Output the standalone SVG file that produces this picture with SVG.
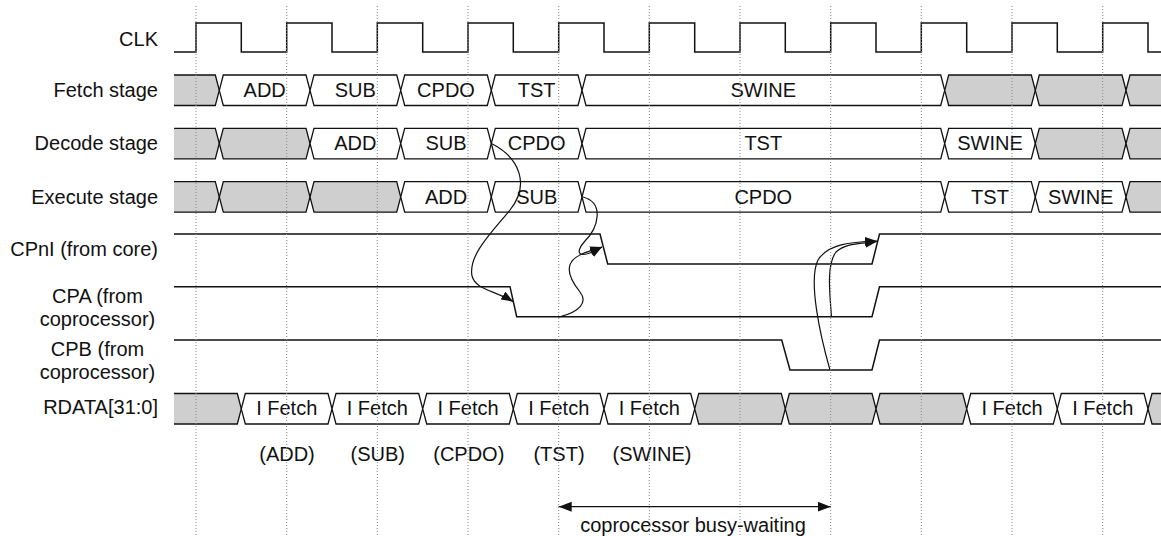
<svg xmlns="http://www.w3.org/2000/svg" width="1161" height="536" viewBox="0 0 1161 536">
<style>
text{font-family:"Liberation Sans",Arial,sans-serif;font-size:20px;fill:#111}
.lbl{text-anchor:end}
.c{text-anchor:middle}
.w{fill:#fff;stroke:#111;stroke-width:1.3}
.g{fill:#cfcfcf;stroke:#111;stroke-width:1.3}
.gf{fill:#cfcfcf;stroke:none}
.o{fill:none;stroke:#111;stroke-width:1.3}
.sig{fill:none;stroke:#111;stroke-width:1.5}
.grid{stroke:#888;stroke-width:1;stroke-dasharray:1 2;fill:none}
.cv{fill:none;stroke:#111;stroke-width:1.2}
</style>
<defs>
<marker id="ah" markerUnits="userSpaceOnUse" markerWidth="14" markerHeight="10" refX="12" refY="4.5" orient="auto"><path d="M0,0 L12,4.5 L0,9 z" fill="#111"/></marker>
<marker id="ah2" markerUnits="userSpaceOnUse" markerWidth="15" markerHeight="11" refX="13" refY="5" orient="auto-start-reverse"><path d="M0,0 L13,5 L0,10 z" fill="#111"/></marker>
</defs>

<g id="labels">
<text class="lbl" x="158" y="45.5">CLK</text>
<text class="lbl" x="158" y="97">Fetch stage</text>
<text class="lbl" x="158" y="150.3">Decode stage</text>
<text class="lbl" x="158" y="203.7">Execute stage</text>
<text class="lbl" x="158" y="255.5">CPnI (from core)</text>
<text class="c" x="97.5" y="303">CPA (from</text>
<text class="c" x="97.5" y="325.5">coprocessor)</text>
<text class="c" x="97.5" y="356">CPB (from</text>
<text class="c" x="97.5" y="378.5">coprocessor)</text>
<text class="lbl" x="158" y="414">RDATA[31:0]</text>
</g>

<g id="clk">
<path class="sig" d="M174,52 H196 V23 H241.3 V52 H286.7 V23 H332 V52 H377.3 V23 H422.7 V52 H468 V23 H513.3 V52 H558.7 V23 H604 V52 H649.3 V23 H694.7 V52 H740 V23 H785.3 V52 H830.7 V23 H876 V52 H921.3 V23 H966.7 V52 H1012 V23 H1057.3 V52 H1102.7 V23 H1148 V52 H1161"/>
</g>

<g id="fetch">
<polygon class="gf" points="174,75 215.3,75 219.3,90.3 215.3,105.5 174,105.5"/>
<path class="o" d="M174,75 H215.3 L219.3,90.3 L215.3,105.5 H174"/>
<polygon class="w" points="219.3,90.3 223.3,75 306,75 310,90.3 306,105.5 223.3,105.5"/>
<polygon class="w" points="310,90.3 314,75 396.7,75 400.7,90.3 396.7,105.5 314,105.5"/>
<polygon class="w" points="400.7,90.3 404.7,75 487.3,75 491.3,90.3 487.3,105.5 404.7,105.5"/>
<polygon class="w" points="491.3,90.3 495.3,75 578,75 582,90.3 578,105.5 495.3,105.5"/>
<polygon class="w" points="582,90.3 586,75 940.7,75 944.7,90.3 940.7,105.5 586,105.5"/>
<polygon class="g" points="944.7,90.3 948.7,75 1031.3,75 1035.3,90.3 1031.3,105.5 948.7,105.5"/>
<polygon class="g" points="1035.3,90.3 1039.3,75 1122,75 1126,90.3 1122,105.5 1039.3,105.5"/>
<polygon class="gf" points="1126,90.3 1130,75 1161,75 1161,105.5 1130,105.5"/>
<path class="o" d="M1161,75 H1130 L1126,90.3 L1130,105.5 H1161"/>
<text class="c" x="264.7" y="96.8">ADD</text>
<text class="c" x="355.3" y="96.8">SUB</text>
<text class="c" x="446" y="96.8">CPDO</text>
<text class="c" x="536.7" y="96.8">TST</text>
<text class="c" x="763.3" y="96.8">SWINE</text>
</g>

<g id="decode">
<polygon class="gf" points="174,128.3 215.3,128.3 219.3,143.5 215.3,158.8 174,158.8"/>
<path class="o" d="M174,128.3 H215.3 L219.3,143.5 L215.3,158.8 H174"/>
<polygon class="g" points="219.3,143.5 223.3,128.3 306,128.3 310,143.5 306,158.8 223.3,158.8"/>
<polygon class="w" points="310,143.5 314,128.3 396.7,128.3 400.7,143.5 396.7,158.8 314,158.8"/>
<polygon class="w" points="400.7,143.5 404.7,128.3 487.3,128.3 491.3,143.5 487.3,158.8 404.7,158.8"/>
<polygon class="w" points="491.3,143.5 495.3,128.3 578,128.3 582,143.5 578,158.8 495.3,158.8"/>
<polygon class="w" points="582,143.5 586,128.3 940.7,128.3 944.7,143.5 940.7,158.8 586,158.8"/>
<polygon class="w" points="944.7,143.5 948.7,128.3 1031.3,128.3 1035.3,143.5 1031.3,158.8 948.7,158.8"/>
<polygon class="g" points="1035.3,143.5 1039.3,128.3 1122,128.3 1126,143.5 1122,158.8 1039.3,158.8"/>
<polygon class="gf" points="1126,143.5 1130,128.3 1161,128.3 1161,158.8 1130,158.8"/>
<path class="o" d="M1161,128.3 H1130 L1126,143.5 L1130,158.8 H1161"/>
<text class="c" x="355.3" y="150.2">ADD</text>
<text class="c" x="446" y="150.2">SUB</text>
<text class="c" x="536.7" y="150.2">CPDO</text>
<text class="c" x="763.3" y="150.2">TST</text>
<text class="c" x="990" y="150.2">SWINE</text>
</g>

<g id="execute">
<polygon class="gf" points="174,181.7 215.3,181.7 219.3,197 215.3,212.2 174,212.2"/>
<path class="o" d="M174,181.7 H215.3 L219.3,197 L215.3,212.2 H174"/>
<polygon class="g" points="219.3,197 223.3,181.7 306,181.7 310,197 306,212.2 223.3,212.2"/>
<polygon class="g" points="310,197 314,181.7 396.7,181.7 400.7,197 396.7,212.2 314,212.2"/>
<polygon class="w" points="400.7,197 404.7,181.7 487.3,181.7 491.3,197 487.3,212.2 404.7,212.2"/>
<polygon class="w" points="491.3,197 495.3,181.7 578,181.7 582,197 578,212.2 495.3,212.2"/>
<polygon class="w" points="582,197 586,181.7 940.7,181.7 944.7,197 940.7,212.2 586,212.2"/>
<polygon class="w" points="944.7,197 948.7,181.7 1031.3,181.7 1035.3,197 1031.3,212.2 948.7,212.2"/>
<polygon class="w" points="1035.3,197 1039.3,181.7 1122,181.7 1126,197 1122,212.2 1039.3,212.2"/>
<polygon class="gf" points="1126,197 1130,181.7 1161,181.7 1161,212.2 1130,212.2"/>
<path class="o" d="M1161,181.7 H1130 L1126,197 L1130,212.2 H1161"/>
<text class="c" x="446" y="203.5">ADD</text>
<text class="c" x="536.7" y="203.5">SUB</text>
<text class="c" x="763.3" y="203.5">CPDO</text>
<text class="c" x="990" y="203.5">TST</text>
<text class="c" x="1080.7" y="203.5">SWINE</text>
</g>

<g id="cpni">
<path class="sig" d="M174,234 H600 L607.7,264 H872 L879.5,234 H1161"/>
</g>
<g id="cpa">
<path class="sig" d="M174,286.7 H510 L516.7,316.7 H872 L879.5,286.7 H1161"/>
</g>
<g id="cpb">
<path class="sig" d="M174,340 H781.7 L790,370 H872 L879.5,340 H1161"/>
</g>

<g id="rdata">
<polygon class="gf" points="174,393.5 237.3,393.5 241.3,408.8 237.3,424 174,424"/>
<path class="o" d="M174,393.5 H237.3 L241.3,408.8 L237.3,424 H174"/>
<polygon class="w" points="241.3,408.8 245.3,393.5 328,393.5 332,408.8 328,424 245.3,424"/>
<polygon class="w" points="332,408.8 336,393.5 418.7,393.5 422.7,408.8 418.7,424 336,424"/>
<polygon class="w" points="422.7,408.8 426.7,393.5 509.3,393.5 513.3,408.8 509.3,424 426.7,424"/>
<polygon class="w" points="513.3,408.8 517.3,393.5 600,393.5 604,408.8 600,424 517.3,424"/>
<polygon class="w" points="604,408.8 608,393.5 690.7,393.5 694.7,408.8 690.7,424 608,424"/>
<polygon class="g" points="694.7,408.8 698.7,393.5 781.3,393.5 785.3,408.8 781.3,424 698.7,424"/>
<polygon class="g" points="785.3,408.8 789.3,393.5 872,393.5 876,408.8 872,424 789.3,424"/>
<polygon class="g" points="876,408.8 880,393.5 962.7,393.5 966.7,408.8 962.7,424 880,424"/>
<polygon class="w" points="966.7,408.8 970.7,393.5 1053.3,393.5 1057.3,408.8 1053.3,424 970.7,424"/>
<polygon class="w" points="1057.3,408.8 1061.3,393.5 1144,393.5 1148,408.8 1144,424 1061.3,424"/>
<polygon class="gf" points="1148,408.8 1152,393.5 1161,393.5 1161,424 1152,424"/>
<path class="o" d="M1161,393.5 H1152 L1148,408.8 L1152,424 H1161"/>
<text class="c" x="286.7" y="414.5">I Fetch</text>
<text class="c" x="377.3" y="414.5">I Fetch</text>
<text class="c" x="468" y="414.5">I Fetch</text>
<text class="c" x="558.7" y="414.5">I Fetch</text>
<text class="c" x="649.3" y="414.5">I Fetch</text>
<text class="c" x="1012" y="414.5">I Fetch</text>
<text class="c" x="1102.7" y="414.5">I Fetch</text>
</g>

<g id="fetch-notes">
<text class="c" x="287" y="460.5">(ADD)</text>
<text class="c" x="377.8" y="460.5">(SUB)</text>
<text class="c" x="468.8" y="460.5">(CPDO)</text>
<text class="c" x="559" y="460.5">(TST)</text>
<text class="c" x="652" y="460.5">(SWINE)</text>
</g>

<g id="connectors">
<path class="cv" marker-end="url(#ah)" d="M491.5,143.5 C520,158 530,185 510,210 C492,232 468,255 472,276 C476,290 494,290 513.3,301.7"/>
<path class="cv" marker-end="url(#ah)" d="M583,197 C605,203 598,228 585,241 C574,253 578,261 602,247"/>
<path class="cv" marker-end="url(#ah)" d="M559,317 C580,312 588,302 580,292 C572,282 565,270 572,261 C578,254 590,251 602,247"/>
<path class="cv" marker-end="url(#ah)" d="M830,370 C820,335 808,280 818,260 C828,244 850,242 877,241"/>
<path class="cv" marker-end="url(#ah)" d="M831.5,317 C830,295 826,265 836,252 C845,243 860,244 877,241.5"/>
<path class="cv" stroke-width="1.3" marker-start="url(#ah2)" marker-end="url(#ah2)" d="M558.7,506.7 H830.7"/>
</g>

<g id="busy-label">
<text class="c" x="693" y="532">coprocessor busy-waiting</text>
</g>

<g id="grid">
<path class="grid" d="M196,6 V536 M286.7,6 V536 M377.3,6 V536 M468,6 V536 M558.7,6 V536 M649.3,6 V536 M740,6 V536 M830.7,6 V536 M921.3,6 V536 M1012,6 V536 M1102.7,6 V536"/>
</g>
</svg>
